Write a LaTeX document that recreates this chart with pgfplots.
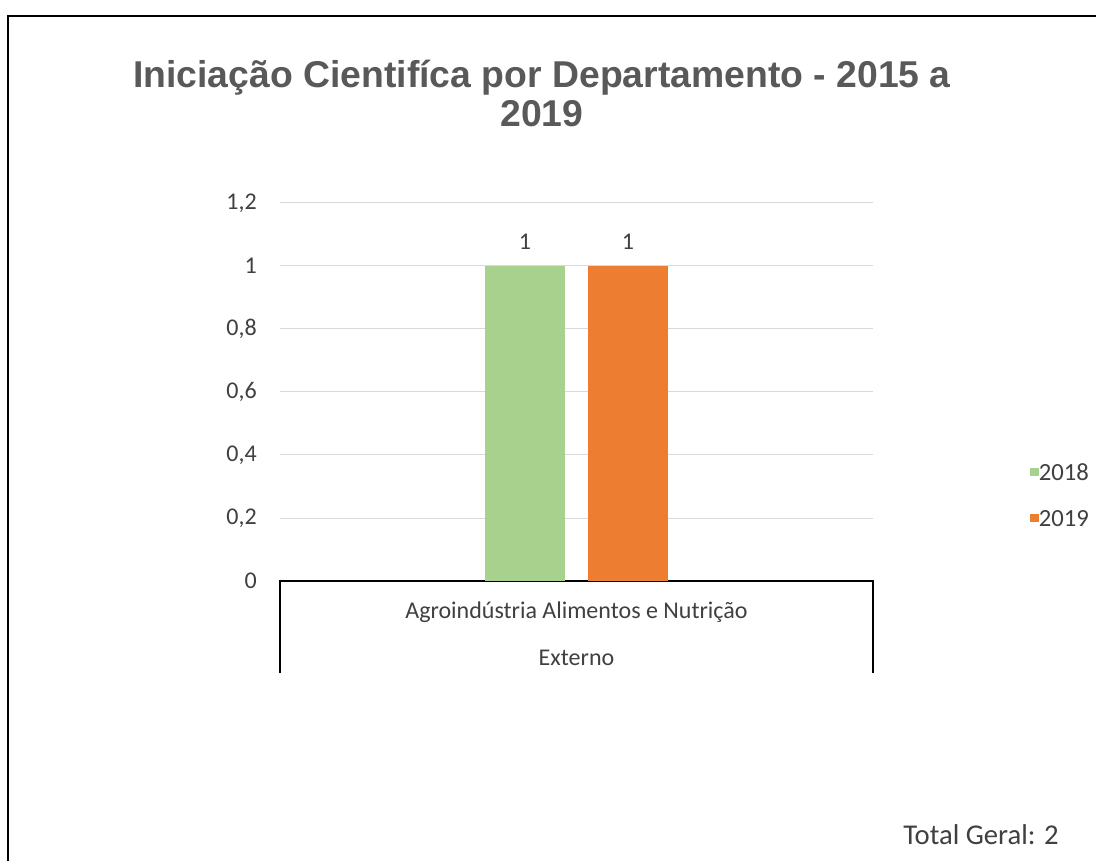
\documentclass[border=0pt]{standalone}
\usepackage{pgfplots}
\pgfplotsset{compat=1.18}
\usepackage{fontspec}
\setmainfont{Carlito}
\newfontfamily\titlefont{Liberation Sans}
\definecolor{cgreen}{HTML}{A9D18E}
\definecolor{corange}{HTML}{ED7D31}
\definecolor{cgrid}{HTML}{D9D9D9}
\definecolor{ctext}{HTML}{404040}
\definecolor{ctitle}{HTML}{595959}
\begin{document}
\begin{tikzpicture}
\begin{scope}[x=0.75pt,y=0.75pt]
\useasboundingbox (0,0) rectangle (1096,861);
\fill[white] (0,0) rectangle (1096,861);
\draw[line width=1.6pt,black] (8,0) -- (8,845) -- (1096,845);
\node[anchor=base,font=\titlefont\bfseries\fontsize{28pt}{32pt}\selectfont,text=ctitle] at (542,773) {Iniciação Cientifíca por Departamento - 2015 a};
\node[anchor=base,font=\titlefont\bfseries\fontsize{28pt}{32pt}\selectfont,text=ctitle] at (542,734) {2019};
\end{scope}
\begin{axis}[
  at={(210pt,210pt)}, anchor=south west,
  scale only axis, width=444.75pt, height=283.5pt,
  xmin=0, xmax=1, ymin=0, ymax=1.2,
  axis lines*=left,
  x axis line style={line width=1.2pt,black,-},
  y axis line style={draw=none,-},
  ymajorgrids, grid style={cgrid,line width=0.75pt},
  major tick length=0pt,
  ytick={0,0.2,0.4,0.6,0.8,1,1.2},
  yticklabel style={/pgf/number format/use comma,/pgf/number format/assume math mode=true,inner sep=0pt,anchor=east,xshift=-17.25pt,font=\fontsize{18pt}{21pt}\selectfont,text=ctext},
  xtick={0.5},
  xticklabels={Agroindústria Alimentos e Nutrição},
  xticklabel style={inner sep=0pt,anchor=center,yshift=-23.25pt,font=\fontsize{18pt}{21pt}\selectfont,text=ctext},
  ybar=17.25pt, bar width=60pt,
  nodes near coords,
  every node near coord/.append style={anchor=center,yshift=18pt,font=\fontsize{18pt}{21pt}\selectfont,text=ctext,/pgf/number format/assume math mode=true},
  legend style={at={(rel axis cs:1.258,0.2275)},anchor=west,draw=none,fill=none,
    font=\fontsize{18.5pt}{21pt}\selectfont,text=ctext,row sep=22pt,
    nodes={inner sep=0pt,text height=12.5pt,text depth=0pt},
    /tikz/every even column/.append style={column sep=3pt}},
  legend cell align=left,
  legend image code/.code={\fill[#1] (0pt,-3.2pt) rectangle (6.4pt,3.2pt);},
  clip=false,
]
\addplot[fill=cgreen,draw=none] coordinates {(0.5,1)};
\addplot[fill=corange,draw=none] coordinates {(0.5,1)};
\legend{2018,2019}
\node[font=\fontsize{18pt}{21pt}\selectfont,text=ctext,anchor=center,yshift=-57.75pt] at (rel axis cs:0.5,0) {Externo};
\end{axis}
\begin{scope}[x=0.75pt,y=0.75pt]
\draw[line width=1.2pt,black] (280,281) -- (280,188);
\draw[line width=1.2pt,black] (873,281) -- (873,188);
\node[anchor=center,font=\fontsize{21.5pt}{25pt}\selectfont,text=ctext] at (981,26) {Total Geral: 2};
\end{scope}
\end{tikzpicture}
\end{document}
